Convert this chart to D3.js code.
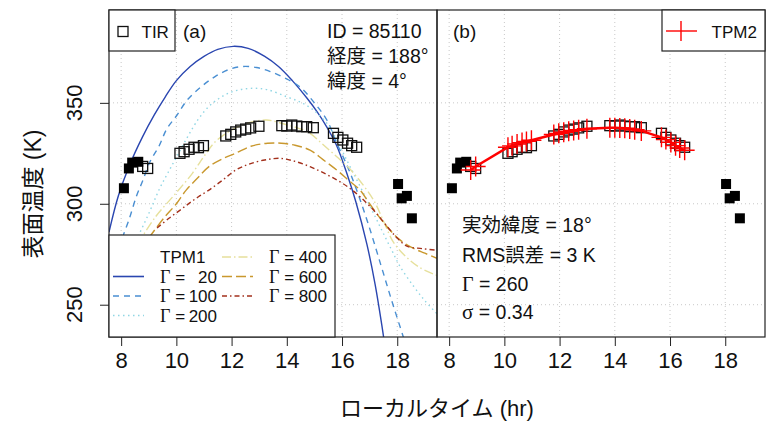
<!DOCTYPE html>
<html>
<head>
<meta charset="utf-8">
<script src="https://cdn.jsdelivr.net/npm/d3@7"></script>
<style>
  body { margin: 0; background: #fff; }
  text { font-family: "Liberation Sans", "Noto Sans CJK JP", sans-serif; fill: #111; }
  .sym { font-family: "Liberation Serif", serif; }
</style>
</head>
<body>
<div id="chart"></div>
<script>
// observations (hour, K)
const tirOpen = [
  [8.78, 318.5], [8.96, 317.5],
  [10.13, 325.0], [10.28, 325.8], [10.46, 327.0], [10.64, 328.0], [10.80, 327.8], [10.98, 328.8],
  [11.79, 333.6], [11.97, 334.4], [12.15, 335.6], [12.33, 336.5], [12.51, 337.0], [12.69, 337.6], [12.99, 338.4],
  [13.82, 338.7], [14.00, 338.5], [14.18, 339.0], [14.36, 338.5], [14.54, 338.2], [14.72, 338.2], [14.96, 337.7],
  [15.69, 334.9], [15.85, 332.9], [16.03, 331.6], [16.20, 330.0], [16.35, 328.8], [16.53, 328.0]
];
const tirFilled = [
  [8.10, 307.7], [8.28, 317.5], [8.40, 320.4], [8.62, 320.8],
  [18.03, 309.8], [18.16, 302.7], [18.35, 303.9], [18.53, 292.8]
];
// TPM2 model at the observation times
const tpm2 = [
  [8.78, 316.7], [8.96, 318.5],
  [10.13, 328.0], [10.28, 328.7], [10.46, 329.6], [10.64, 330.3], [10.80, 330.9], [10.98, 331.5],
  [11.79, 334.3], [11.97, 334.9], [12.15, 335.4], [12.33, 335.9], [12.51, 336.3], [12.69, 336.7], [12.99, 337.2],
  [13.82, 337.7], [14.00, 337.7], [14.18, 337.6], [14.36, 337.4], [14.54, 337.1], [14.72, 336.7], [14.96, 336.1],
  [15.69, 332.9], [15.85, 331.8], [16.03, 330.4], [16.20, 328.8], [16.35, 327.6], [16.53, 326.5]
];
// TPM1 curves for each thermal inertia
const gamma20 = [[7.56,286],[7.9,304],[8.3,319],[8.77,333],[9.2,344],[9.6,353],[10.0,361],[10.5,368],[11.0,373],[11.5,376.5],[12.06,378],[12.6,377],[13.2,373],[13.7,368],[14.2,361],[14.72,352.5],[15.1,345.5],[15.45,338],[15.8,329],[16.2,314],[16.5,301],[16.9,280],[17.2,260],[17.44,240],[17.6,225]];
const gamma100 = [[7.9,278],[8.28,292],[8.56,304],[8.77,311],[9.05,321],[9.37,328.5],[9.65,337],[10.0,343.5],[10.4,351.5],[10.9,358],[11.4,363],[11.9,366.5],[12.4,368],[12.9,367.5],[13.4,365.5],[13.9,362.5],[14.47,358],[15.0,350],[15.45,341.5],[15.81,330],[16.2,318.4],[16.53,306.8],[16.95,290],[17.4,270],[17.8,252],[18.22,234],[18.4,226]];
const gamma200 = [[8.3,275],[8.95,293.6],[9.41,308],[9.7,315.5],[10.0,323],[10.4,333],[10.8,342],[11.2,348.5],[11.7,353.5],[12.2,356.2],[12.75,357.2],[13.3,356.5],[14.0,353],[14.5,350.3],[14.96,346.5],[15.5,339],[15.9,329],[16.29,318.4],[16.9,302],[17.38,288.6],[17.8,277],[18.1,269],[18.6,259],[19.0,252],[19.44,245.5]];
const gamma400 = [[8.6,280],[9.25,293.6],[9.98,305.2],[10.58,315.1],[11.0,323.5],[11.43,331],[12.0,336.5],[12.6,340],[13.27,341.5],[13.9,339.5],[14.4,337.5],[14.84,334.9],[15.3,329.5],[15.81,323.3],[16.2,318.5],[16.53,313.4],[17.14,301.9],[17.5,291.5],[17.86,281],[18.3,274],[18.8,268.5],[19.44,264.5]];
const gamma600 = [[9.0,283],[9.55,293],[10.0,300],[10.34,306.5],[10.75,312.5],[11.18,318.4],[11.7,322.5],[12.14,325],[12.7,328.5],[13.3,330],[13.8,330],[14.3,329],[14.84,326.6],[15.3,322],[15.81,316.7],[16.25,311.5],[16.65,306.8],[17.0,300],[17.4,292.5],[17.8,286],[18.1,282.1],[18.5,278.5],[19.0,275.5],[19.44,273]];
const gamma800 = [[9.3,288],[9.73,292.8],[10.1,296.5],[10.46,300.2],[10.8,303.5],[11.18,306.8],[11.7,312],[12.15,316.7],[12.6,319.5],[13.2,321.7],[13.76,322.5],[14.3,321],[14.84,318.4],[15.3,315.5],[15.81,311.8],[16.25,308],[16.65,303.5],[17.2,296],[17.68,288],[18.0,283],[18.35,279],[18.9,277.8],[19.44,277]];

const gammaLabels = [20, 100, 200, 400, 600, 800];
const xTicks = [8, 10, 12, 14, 16, 18];
const yTicks = [250, 300, 350];
const infoA = ["ID = 85110", "経度 = 188°", "緯度 = 4°"];

const tpm1 = [
  { g: 20,  data: gamma20,  color: "#2a46b0", dash: null },
  { g: 100, data: gamma100, color: "#4a8fd2", dash: "6,5" },
  { g: 200, data: gamma200, color: "#90d6e4", dash: "1.5,3.5" },
  { g: 400, data: gamma400, color: "#e6e09c", dash: "9,3,1.5,3" },
  { g: 600, data: gamma600, color: "#c9982e", dash: "10,4" },
  { g: 800, data: gamma800, color: "#a3301c", dash: "5,3,1.5,3" }
];

const W = 769, H = 421;
const plotTop = 10, plotBottom = 337;

const svg = d3.select("#chart").append("svg")
  .attr("width", W).attr("height", H);

const y = d3.scaleLinear().domain([234, 396]).range([plotBottom, plotTop]);

function panel(left, right, id) {
  const x = d3.scaleLinear().domain([7.56, 19.44]).range([left, right]);
  const g = svg.append("g");

  svg.append("clipPath").attr("id", "clip" + id)
    .append("rect").attr("x", left).attr("y", plotTop)
    .attr("width", right - left).attr("height", plotBottom - plotTop);

  // dotted grid
  g.selectAll(".gx").data(xTicks).enter().append("line")
    .attr("x1", d => x(d)).attr("x2", d => x(d))
    .attr("y1", plotTop).attr("y2", plotBottom)
    .attr("stroke", "#c8c8c8").attr("stroke-dasharray", "1,3");
  g.selectAll(".gy").data(yTicks).enter().append("line")
    .attr("x1", left).attr("x2", right)
    .attr("y1", d => y(d)).attr("y2", d => y(d))
    .attr("stroke", "#c8c8c8").attr("stroke-dasharray", "1,3");

  // bottom axis
  const ax = g.append("g").attr("transform", `translate(0,${plotBottom})`)
    .call(d3.axisBottom(x).tickValues(xTicks).tickSize(9).tickPadding(6));
  ax.select(".domain").remove();
  ax.selectAll("line").attr("stroke", "#222");
  ax.selectAll("text").attr("font-size", 22).attr("fill", "#111")
    .attr("font-family", "Liberation Sans, sans-serif");

  const body = g.append("g").attr("clip-path", `url(#clip${id})`);
  return { x, g, body };
}

const pa = panel(109, 437, "a");
const pb = panel(437, 765, "b");

// y axis on the left panel
const ay = svg.append("g").attr("transform", "translate(109,0)")
  .call(d3.axisLeft(y).tickValues(yTicks).tickSize(9).tickPadding(0));
ay.select(".domain").remove();
ay.selectAll("line").attr("stroke", "#222");
ay.selectAll("text").remove();
svg.selectAll(".ylab").data(yTicks).enter().append("text")
  .attr("transform", d => `translate(82,${y(d)}) rotate(-90)`)
  .attr("text-anchor", "middle").attr("font-size", 22).text(d => d);

// TPM1 curves in (a)
const lineA = d3.line().x(d => pa.x(d[0])).y(d => y(d[1])).curve(d3.curveCatmullRom);
tpm1.forEach(c => {
  pa.body.append("path").datum(c.data)
    .attr("d", lineA).attr("fill", "none")
    .attr("stroke", c.color).attr("stroke-width", 1.4)
    .attr("stroke-dasharray", c.dash);
});

// observations in both panels
function drawObs(p) {
  p.body.selectAll(".open").data(tirOpen).enter().append("rect")
    .attr("x", d => p.x(d[0]) - 5).attr("y", d => y(d[1]) - 5)
    .attr("width", 10).attr("height", 10)
    .attr("fill", "none").attr("stroke", "#111").attr("stroke-width", 1.3);
  p.body.selectAll(".filled").data(tirFilled).enter().append("rect")
    .attr("x", d => p.x(d[0]) - 5).attr("y", d => y(d[1]) - 5)
    .attr("width", 10).attr("height", 10).attr("fill", "#000");
}
drawObs(pa);
drawObs(pb);

// TPM2 in (b)
const lineB = d3.line().x(d => pb.x(d[0])).y(d => y(d[1]));
pb.body.append("path").datum(tpm2).attr("d", lineB)
  .attr("fill", "none").attr("stroke", "#ff0000").attr("stroke-width", 2.5);
pb.body.selectAll(".plus").data(tpm2).enter().append("path")
  .attr("transform", d => `translate(${pb.x(d[0])},${y(d[1])})`)
  .attr("d", "M-10,0H10M0,-10V10")
  .attr("stroke", "#ff0000").attr("stroke-width", 1.4).attr("fill", "none");

// panel frames
[[109, 437], [437, 765]].forEach(([l, r]) => {
  svg.append("rect").attr("x", l).attr("y", plotTop)
    .attr("width", r - l).attr("height", plotBottom - plotTop)
    .attr("fill", "none").attr("stroke", "#222").attr("stroke-width", 1.2);
});

// (a) labels
svg.append("rect").attr("x", 109).attr("y", 10).attr("width", 66).attr("height", 41)
  .attr("fill", "#fff").attr("stroke", "#222").attr("stroke-width", 1.2);
svg.append("rect").attr("x", 118).attr("y", 26.5).attr("width", 10).attr("height", 10)
  .attr("fill", "none").attr("stroke", "#111").attr("stroke-width", 1.3);
svg.append("text").attr("x", 141.5).attr("y", 37.5).attr("font-size", 17).text("TIR");
svg.append("text").attr("x", 183).attr("y", 37.5).attr("font-size", 19).text("(a)");
svg.selectAll(".infoA").data(infoA).enter().append("text")
  .attr("x", 327).attr("y", (d, i) => 37.5 + i * 25)
  .attr("font-size", 19.5).text(d => d);

// TPM1 legend
const lg = svg.append("g");
lg.append("rect").attr("x", 109).attr("y", 235).attr("width", 226).attr("height", 102)
  .attr("fill", "#fff").attr("stroke", "#222").attr("stroke-width", 1.2);
const rowY = [263, 282.5, 302, 321.5];
lg.append("text").attr("x", 160).attr("y", rowY[0]).attr("font-size", 17).text("TPM1");
tpm1.forEach((c, i) => {
  const slot = i + 1;
  const col = Math.floor(slot / 4), row = slot % 4;
  const lx = col === 0 ? 113 : 222;
  const tx = col === 0 ? 160 : 269;
  const nx = col === 0 ? 217 : 327;
  const by = rowY[row];
  lg.append("line").attr("x1", lx).attr("x2", lx + 31)
    .attr("y1", by - 6).attr("y2", by - 6)
    .attr("stroke", c.color).attr("stroke-width", 1.6)
    .attr("stroke-dasharray", c.dash);
  const t = lg.append("text").attr("x", tx).attr("y", by).attr("font-size", 17);
  t.append("tspan").attr("class", "sym").attr("font-size", 18).text("Γ");
  t.append("tspan").text(" =");
  lg.append("text").attr("x", nx).attr("y", by).attr("font-size", 17)
    .attr("text-anchor", "end").text(gammaLabels[i]);
});

// (b) labels
svg.append("text").attr("x", 453).attr("y", 37.5).attr("font-size", 19).text("(b)");
svg.append("rect").attr("x", 662).attr("y", 10).attr("width", 103).attr("height", 41)
  .attr("fill", "#fff").attr("stroke", "#222").attr("stroke-width", 1.2);
svg.append("line").attr("x1", 666).attr("x2", 697).attr("y1", 31).attr("y2", 31)
  .attr("stroke", "#ff0000").attr("stroke-width", 1.4);
svg.append("path").attr("d", "M681,21V41").attr("stroke", "#ff0000").attr("stroke-width", 1.4);
svg.append("text").attr("x", 711.5).attr("y", 37.5).attr("font-size", 17).text("TPM2");

const infoB = svg.append("g").attr("font-size", 19.5);
infoB.append("text").attr("x", 462).attr("y", 231.5).text("実効緯度 = 18°");
infoB.append("text").attr("x", 462).attr("y", 262).text("RMS誤差 = 3 K");
const tg = infoB.append("text").attr("x", 462).attr("y", 290.5);
tg.append("tspan").attr("class", "sym").attr("font-size", 20).text("Γ");
tg.append("tspan").text(" = 260");
const ts = infoB.append("text").attr("x", 462).attr("y", 319);
ts.append("tspan").attr("class", "sym").attr("font-size", 21).text("σ");
ts.append("tspan").text(" = 0.34");

// axis titles
svg.append("text").attr("x", 437).attr("y", 416).attr("text-anchor", "middle")
  .attr("font-size", 22).text("ローカルタイム (hr)");
svg.append("text").attr("transform", "translate(33,194) rotate(-90)")
  .attr("text-anchor", "middle").attr("dominant-baseline", "central")
  .attr("font-size", 23).text("表面温度 (K)");
</script>
</body>
</html>
